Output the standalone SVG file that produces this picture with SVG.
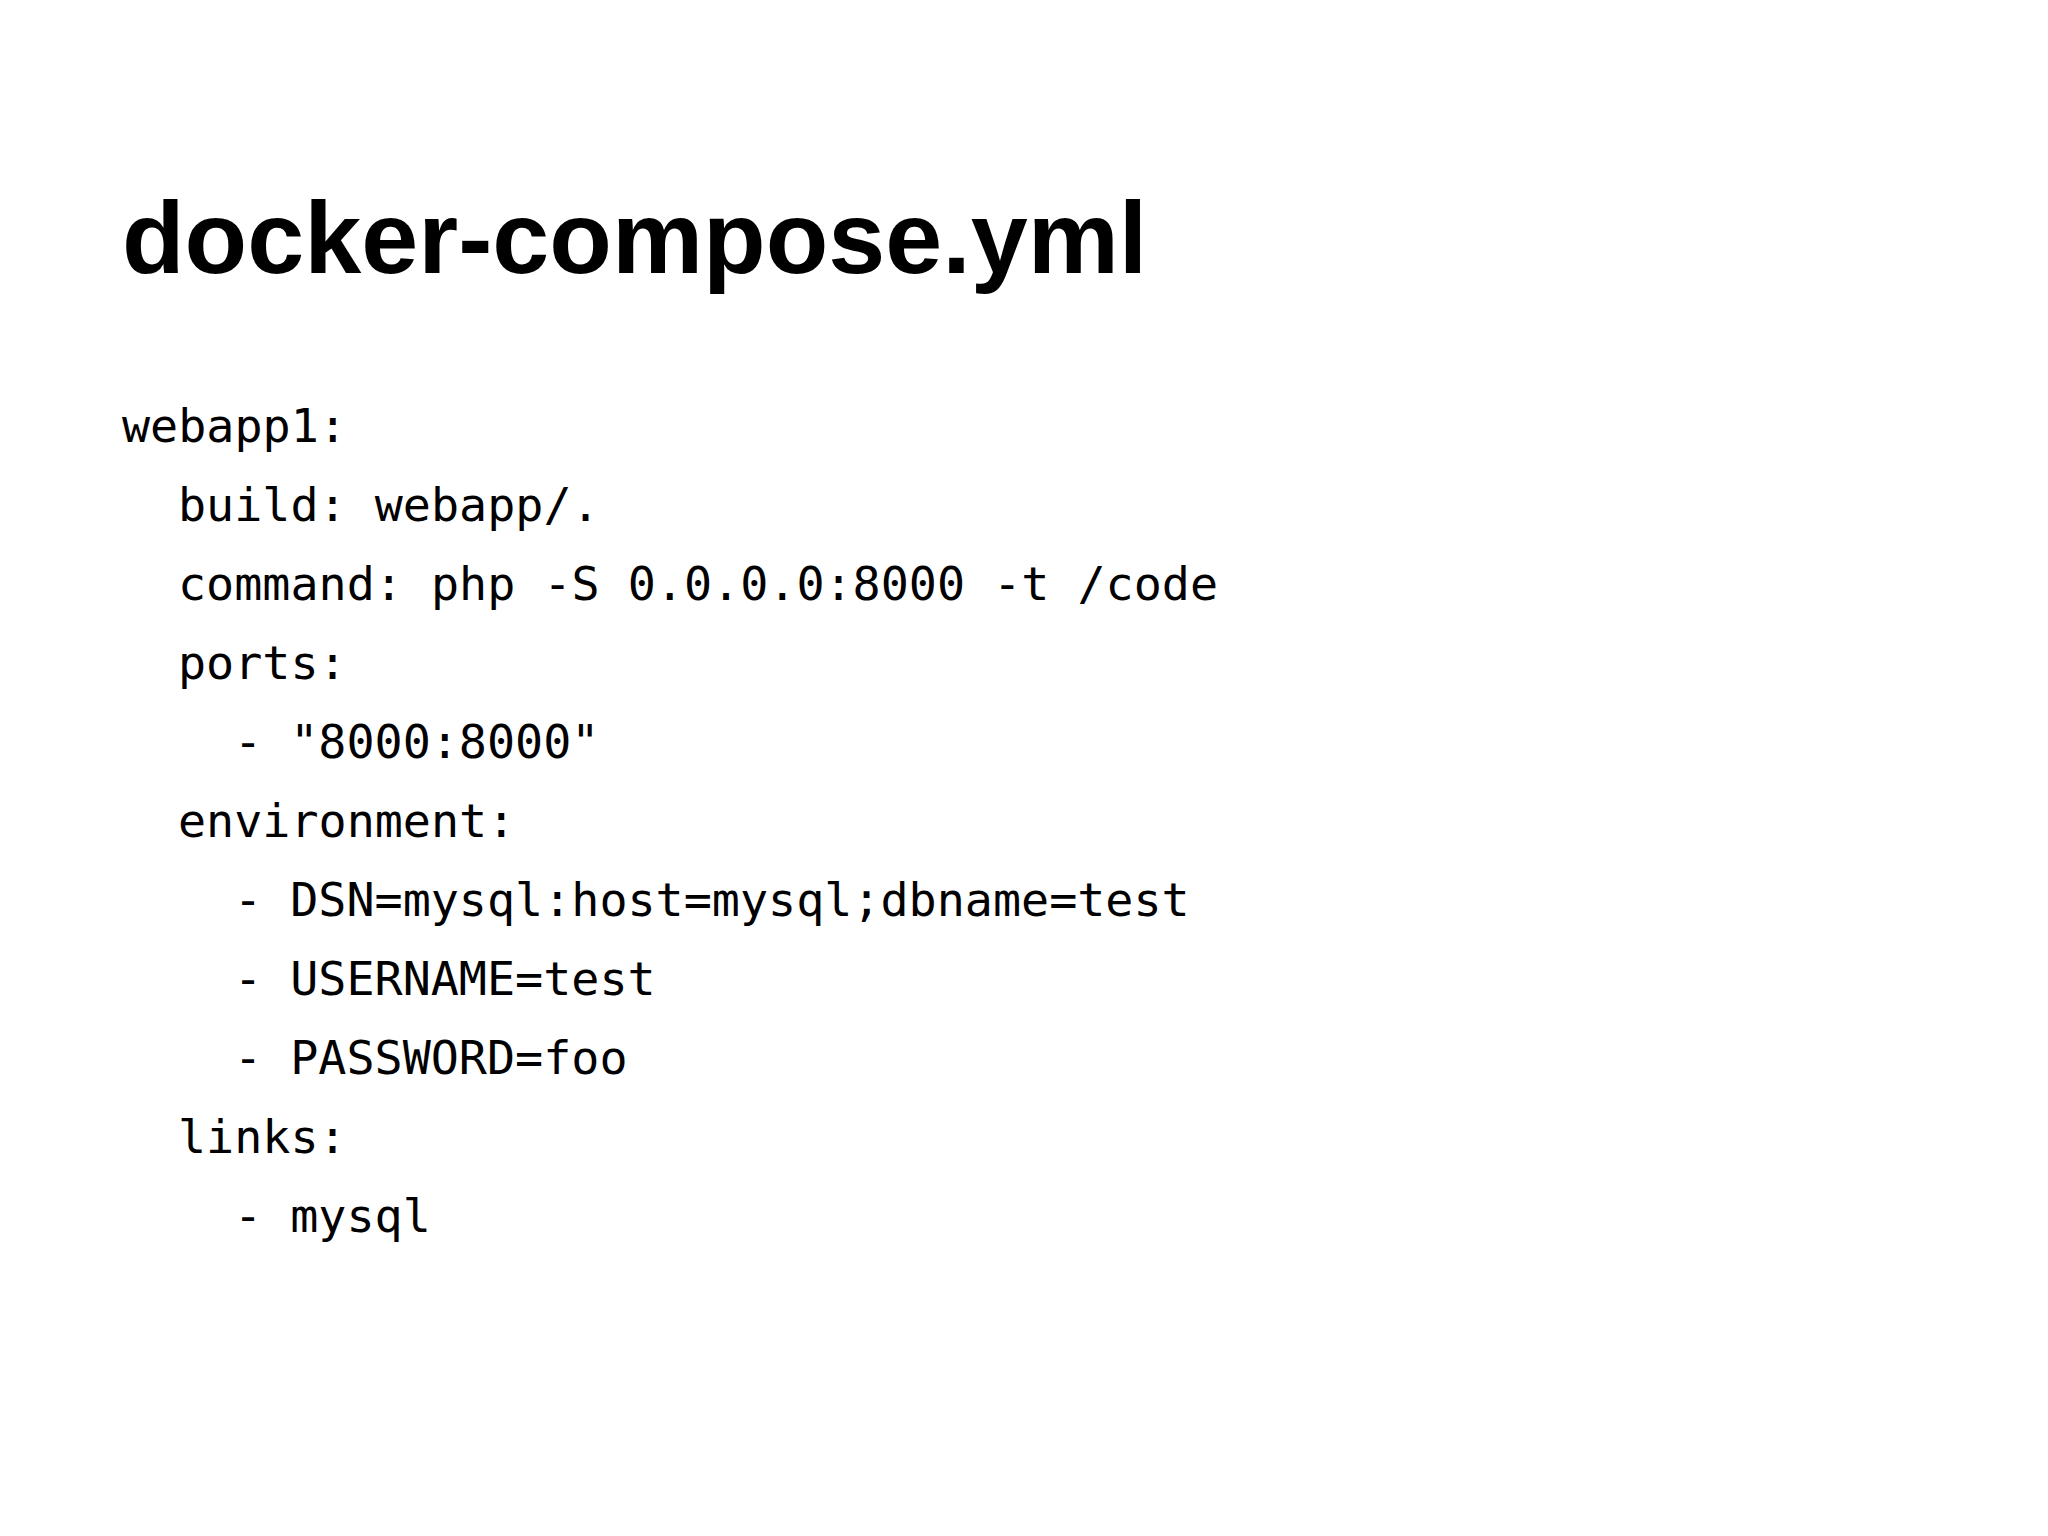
<svg xmlns="http://www.w3.org/2000/svg" width="2048" height="1536" viewBox="0 0 2048 1536">
<style>
.title{font-family:"Liberation Sans",Arial,sans-serif;font-weight:bold;font-size:102.5px;fill:#000}
.code{font-family:"DejaVu Sans Mono","Liberation Mono",monospace;font-size:46.7px;fill:#000}
</style>
<rect width="2048" height="1536" fill="#fff"/>
<g id="title">
<text class="title" x="122" y="273">docker-compose.yml</text>
</g>
<g id="code">
<text class="code" x="122" y="442">webapp1:</text>
<text class="code" x="178" y="521">build: webapp/.</text>
<text class="code" x="178" y="600">command: php -S 0.0.0.0:8000 -t /code</text>
<text class="code" x="178" y="679">ports:</text>
<text class="code" x="234" y="758">- "8000:8000"</text>
<text class="code" x="178" y="837">environment:</text>
<text class="code" x="234" y="916">- DSN=mysql:host=mysql;dbname=test</text>
<text class="code" x="234" y="995">- USERNAME=test</text>
<text class="code" x="234" y="1074">- PASSWORD=foo</text>
<text class="code" x="178" y="1153">links:</text>
<text class="code" x="234" y="1232">- mysql</text>
</g>
</svg>
